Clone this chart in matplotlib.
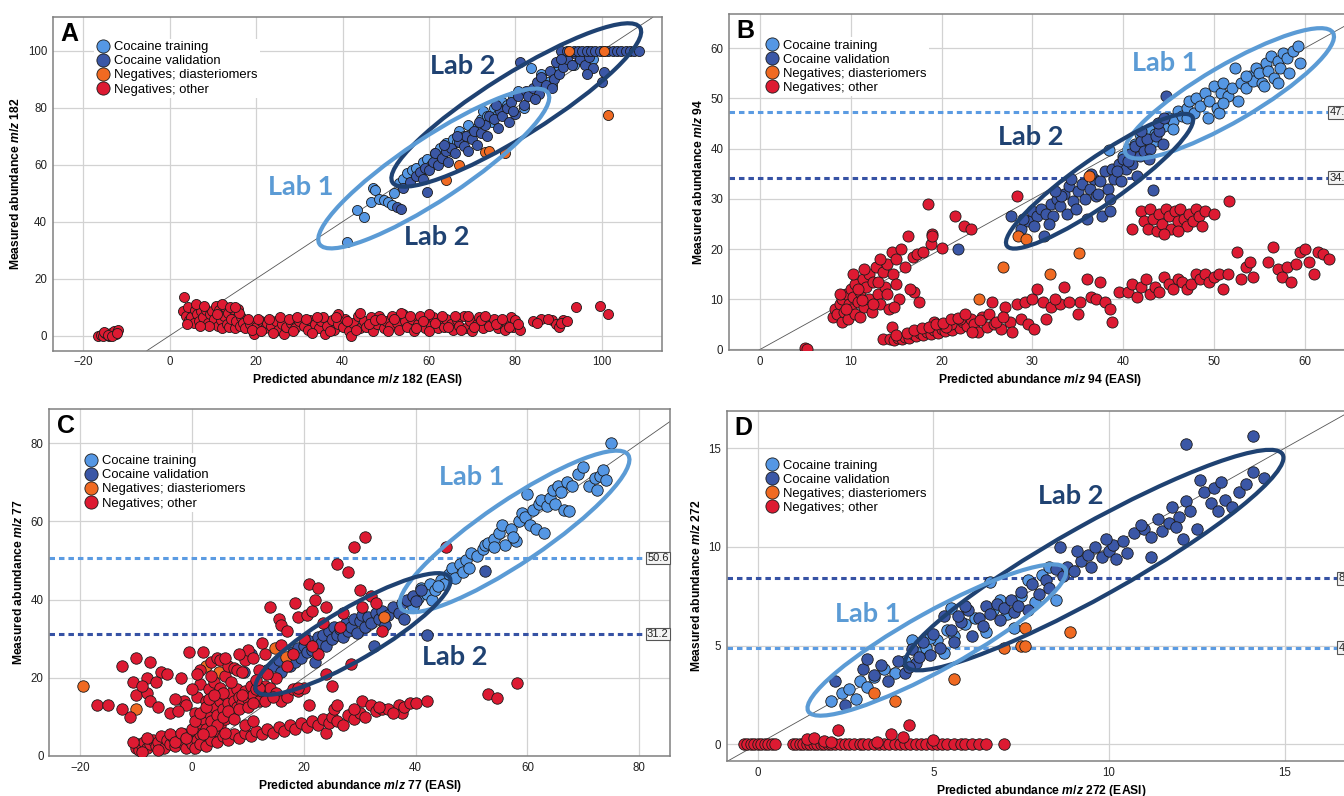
import numpy as np
import matplotlib
matplotlib.use("Agg")
import matplotlib.pyplot as plt
from matplotlib.patches import Ellipse
from matplotlib.transforms import IdentityTransform, blended_transform_factory
from matplotlib.lines import Line2D

plt.rcParams['font.family'] = ['Liberation Sans', 'DejaVu Sans']
plt.rcParams['mathtext.fontset'] = 'custom'
plt.rcParams['mathtext.it'] = 'Liberation Sans:italic:bold'
plt.rcParams['mathtext.rm'] = 'Liberation Sans:bold'
plt.rcParams['mathtext.bf'] = 'Liberation Sans:bold'

# ---------------------------------------------------------------- data
series_names = ["Cocaine training", "Cocaine validation",
                "Negatives; diasteriomers", "Negatives; other"]

# Panel A : m/z 182
A_xticks = [-20, 0, 20, 40, 60, 80, 100]
A_yticks = [0, 20, 40, 60, 80, 100]
A_train = [(41,33),(43.3,44),(45,41.5),(46.5,47),(47,52),(47.5,51),(48.5,48),(49.5,47.5),(50.5,47),(51.5,46),
           (52,50),(53,53.5),(54,55),(55,57),(56,58),(57,59),(58,57),(58.5,61),(59.5,62),(60.5,60),
           (61.5,64),(62.5,66),(63,63),(64,67.5),(65,65),(65.5,69),(66.5,68),(67,72),(68,70),(69,74),
           (70,71),(71,73),(72,76),(72.5,79),(73.5,77),(74.5,75),(75,80),(76,78),(77,82),(78,81),
           (79.5,84),(80.5,86),(82,80),(83.5,94),(85,87),(86,92),(87.5,89),(88.5,88),(90,94),(91,97),
           (92,99),(93.5,95),(95,98),(96.5,100),(98,97)]
A_valid = [(52.5,45),(53.5,44.5),(59.5,50.5),(54,52),(55.5,54),(57,56),(58,57.5),(59,59),(60,58),(61,61),
           (61.5,64),(62,60),(63,62.5),(64,65),(64.5,61),(65,66),(66,64),(67,68),(68,66.5),(68.5,70),
           (69,65),(70,69),(70.5,72),(71,67),(72,71),(73,74),(73.5,70),(74,77),(75,76),(76,73),
           (76.5,79),(77,77),(78,80),(78.5,75),(79,82),(80,78),(80.5,84),(81,96),(82,81),(82.5,86),
           (83,84),(84,87),(85,89),(85.5,85),(86,91),(87,88),(88,93),(89,90),(89.5,96),(90,92),
           (91,94.5),(92,97),(93,95),(94,99),(95,97),(96,95),(97,98),(98,94),(100,89),(100.5,92.5),
           (90.5,100),(92,100),(93.5,100),(94.5,100),(95.5,100),(96.5,100),(97.5,100),(98.5,100),(99.5,100),
           (100.5,100),(101.5,100),(102.5,100),(103.5,100),(104.5,100),(105.5,100),(106.5,100),(107.5,100),(108.5,100),
           (66.5,70),(71.5,75),(75.5,81),(79.5,79),(84.5,83),(88.5,87),(90.5,97),(96.5,92),(63.5,67),(58.5,55)]
A_diast = [(92.5,100),(100.5,100),(101.5,77.5),(64,54.5),(67,60),(73,64.5),(74,65),(77.5,64)]
A_other = [(-16.5,0),(-16,0.3),(-15.5,0),(-15,1),(-14.5,0.5),(-14,0),(-13.5,0.8),(-13,1.5),(-12.5,0.5),(-12,1.8),
           (-15.2,1.2),(-14.2,0.2),(-13.3,0),(-12.3,1),
           (3.2,13.5),(3.0,8.5),(3.8,7),(4.2,10),(4.5,5.5),(5.0,6.5),(5.5,4.5),(5.8,9),(6.3,7.5),(6.8,5),
           (7.2,8.5),(7.8,6.5),(8.3,9),(8.8,4.5),(9.3,7.5),(9.8,8.5),(10.3,6),(10.8,10.5),(11.2,3.5),(11.5,9),
           (11.8,5.5),(12.2,2.5),(12.5,7),(12.8,10),(13.2,4),(13.5,8),(13.8,3),(14.2,6),(14.6,9.5),(15.0,2.5),
           (15.4,5),(15.7,9.5),(16.2,3.5),(16.6,6.5),(17.0,4.5),(17.5,2.5),
           (18.5,4),(19.5,0.5),(20,3),(21,5),(22,2.5),(22.5,4.5),(23.5,3.5),(24.5,5),(25,2),(26,4),
           (26.5,0.5),(27,3),(28,4.5),(29,2.5),(30,5),(31,3.5),(32,2),(32.5,5.5),(33.5,4),(34.5,2.5),
           (35,5),(36,0.5),(36.5,3.5),(37.5,5.5),(38,2),(39,4),(40,3),(40.5,6),(41.5,1.5),(42,0),
           (42.5,4.5),(43.5,7),(44,2.5),(45,5),(45.5,3),(46.5,6.5),(47,1.5),(48,4),(48.5,7),(49.5,2.5),
           (50,5),(51,3.5),(51.5,7),(52.5,4.5),(53,2),(54,7.5),(54.5,5),(55,3),(56,6),(56.5,1.5),
           (57.5,4),(58,7),(59,2.5),(59.5,5.5),(60.5,3.5),(61,6.5),(62,2.5),(62.5,5),(63.5,3),(64,6),
           (65,4),(65.5,2),(66.5,5.5),(67,3.5),(68,7),(68.5,2.5),(69.5,5),(70,1.5),(71,4),(71.5,6.5),
           (72.5,2.5),(73.5,5),(74,3.5),(75,6),(76,2.5),(76.5,4.5),(78,4),(79,6.5),(79.5,3),(80,5.5),
           (81,2),(84,5),(86,6),(88.5,5.5),(89.5,4),(90,3),(91,5.5),(94,10),(99.5,10.5),(101.5,7.5),
           (44,8),(53.5,8),(39,7.5),(60,7.5),(35.5,6.5),(20.5,6),
           (18,6),(19,2),(21,1.5),(23,6),(24,1),(25.5,6.5),(27.5,6),(28.5,1.5),(29.5,6.5),(31.5,6),
           (33,1),(34,6.5),(37,1.5),(38.5,6.5),(41,5),(43,2),(46,4),(47.5,5.5),(49,6),(50.5,1.5),
           (52,6),(55.5,7),(57,2.5),(58.5,5),(60,1.5),(61.5,4.5),(63,7),(64.5,3),(66,7),(67.5,2),
           (69,7),(70.5,3),(72,5.5),(73,7),(75.5,4),(77,6),(77.5,2),(78.5,3),(80.5,4),(85,4.5),
           (87.5,6),(90.5,4.5),(92,5),(11,7.5),(9,3.5),(7,3.5),(4,4),(6,11),(8,10.5),(12,11),
           (14,10),(16,8),(15.2,10)]

# Panel B : m/z 94
B_xticks = [0, 10, 20, 30, 40, 50, 60]
B_yticks = [0, 10, 20, 30, 40, 50, 60]
B_refs = [47.2, 34.2]
B_train = [(40,38.5),(40.5,40),(41.3,41),(41.8,43),(42.5,42),(43,44),(43.5,43),(44,45),(44.5,44.5),(45,46),
           (45.5,45.5),(46,47.5),(46.5,46.5),(47,48),(47.3,49.5),(47.8,47),(48,50),(48.5,48.5),(49,51),(49.3,46),
           (49.5,49.5),(50,52.5),(50.3,48),(50.5,47),(50.8,51),(51,53),(51.5,50.5),(52,52),(52.3,56),(52.7,49.5),
           (53,53),(53.5,52),(54,54.5),(54.3,53.5),(54.6,56),(55,55),(55.3,53),(55.7,57),(56,55.5),(56.3,58.5),
           (56.6,54),(57,57.5),(57.3,56),(57.6,59),(58,58),(58.3,55),(58.7,59.5),(59.2,60.5),(59.5,57),(57,53),
           (55.5,52.5),(53.5,54.5),(51,49),(47,46),(45.5,44),(43.5,41.5),(38.4,39.7)]
B_valid = [(21.8,20),(27.7,26.5),(28.7,24),(29.5,25.5),(30,27.5),(30.5,26.5),(31,28),(31.3,22.5),(31.5,27),(32,29),
           (32.3,26.5),(32.7,30),(33,28.5),(33.5,31),(33.8,27),(34,32.5),(34.5,29.5),(35,31.5),(35.5,33),(35.8,30),
           (36,26),(36.3,32),(36.8,34),(37,30.5),(37.5,33.5),(37.7,26.5),(38,35.5),(38.3,32),(38.5,27.5),(38.8,36),
           (39,34),(39.5,37),(39.8,33.5),(40,38),(40.3,36),(40.8,39),(41,37),(41.3,40.5),(41.5,34.5),(41.8,38.5),
           (42,41.5),(42.3,39.5),(42.6,42),(43,40),(43.3,31.8),(43.6,42.5),(44,43.5),(44.4,41),(44.7,50.5),
           (29,26),(30.2,24.5),(31.8,25),(33.2,30.5),(34.8,28),(36.5,35),(37.2,31),(39.3,35.5),(40.5,37.5),(42.8,38),
           (43.8,45),(42,43.5),(38.6,30),(34.2,34),(32.5,31.5),(44.5,46)]
B_diast = [(28.4,22.5),(29.3,22),(36.2,34.5),(35.1,19.2),(26.8,16.5),(31.9,15),(24.1,10)]
B_other = [(8,6.5),(8.3,8),(8.5,7),(8.8,9),(9,5.5),(9,10),(9.3,7.5),(9.5,11),(9.7,6),(9.8,9),
           (10,12),(10,8),(10.3,10.5),(10.5,7),(10.5,13),(10.8,9.5),(11,11.5),(11,6.5),(11.3,14),(11.5,8.5),
           (11.7,12.5),(12,10),(12,15),(12.3,7.5),(12.5,13.5),(12.8,16.5),(13,11),(13.2,9),(13.5,15.5),(13.8,12.5),
           (14,17),(14.2,8),(14.5,19.5),(14.7,15),(15,18),(15,13),(15.5,20),(15.3,10),(14.8,8.5),(16,16.5),
           (16.3,22.5),(16.8,18.5),(17.3,19),(17,11.5),(17.5,9.5),(16.5,12),(18,19.5),(18.5,29),(18.8,21),(19,23),
           (19.2,5.5),(20,20.2),(21.5,26.5),(22.5,24.5),(23.2,24),(14.5,4.5),(13.5,2),(19,22.5),(5,0.3),(5.2,0),
           (14.3,2),(14.8,1.8),(15.2,2.3),(15.6,2),(16,2.5),(16.4,2.2),(16.8,3),(17.2,2.6),(17.6,3.2),(18,2.8),
           (18.4,3.5),(18.8,3),(19.2,3.8),(19.6,3.3),(20,4),(20.4,3.6),(20.8,4.5),(21.2,3.9),(21.6,5),(22,4.2),
           (22.4,5.5),(22.8,4.6),(23.2,6),(23.6,5),(24,3.5),(24.5,6.5),(25,4.5),(25.5,9.5),(25.8,5),(26.5,4),
           (27,8.5),(27.5,5.5),(27.8,3.5),(28.3,9),(28.8,6),(29.2,9.5),(29.5,5),(30,10),(30.2,4),(30.5,12),
           (31.2,9.5),(31.5,6),(32,8.5),(33,9),(35,7),(35.3,9.5),(36,14),(36.5,10.5),(37,10),(37.5,13.5),
           (38,9.5),(38.5,8),(38.8,5.5),(39.5,11.5),(40.5,11.5),(41,13),(41.5,10.5),(42,12.5),(42.5,14),(43,11),
           (43.5,12.5),(44,11.5),(44.5,14.5),(45,13),(45.5,12),(46,14),(46.5,13.5),(47,12),(47.5,13),(48,15),
           (48.5,14),(49,15),(49.5,13.5),(50,14.5),(50.5,15),(51,12),(51.5,15),(52.5,19.5),(53,14),(53.5,16.5),
           (54,17.5),(54.3,14.5),(56,17.5),(56.5,20.5),(57,16),(57.5,14.5),(58,16.5),(58.5,13.5),(59,17),(59.5,19.5),
           (60,20),(60.5,17.5),(61,15),(61.5,19.5),(62,19),(62.7,18),(21,5),(20.5,4.5),(22,6),(28.3,30.5),
           (41,24),(42,27.5),(42.3,25.5),(42.7,24),(43,28),(43.3,26),(43.7,23.5),(44,27),(44.3,25),(44.7,28),
           (45,26.5),(45.3,24),(45.7,27.5),(46,25.5),(46.3,28),(46.7,26),(47,24.5),(47.3,27),(47.7,25.5),(48,28),
           (48.3,26.5),(48.7,24.5),(49,27.5),(50,27),(51.7,29.5),(44.5,23),(46,23.5),
           (15,2.8),(16.2,3.3),(17,3.8),(17.8,4.2),(18.6,4.5),(19.4,5),(20.2,5.3),(21,6),(21.8,6.3),(22.6,7),
           (23.4,3.5),(24.2,5.8),(25.2,7),(26,5.5),(26.8,6.5),(33.5,12.5),(34,9.5),(32.5,10),(13,13.5),(12.5,9),
           (11.5,16),(10.2,15),(14,11),(13.2,18),(9.5,8),(10.8,12),(8.8,11),(11.2,9.8)]

# Panel C : m/z 77
C_xticks = [-20, 0, 20, 40, 60, 80]
C_yticks = [0, 20, 40, 60, 80]
C_refs = [50.6, 31.2]
C_train = [(39.5,38),(40.5,40.5),(41,43),(42,41.5),(42.5,44),(43,40),(43.5,42.5),(44.5,45),(45,44),(46,46.5),
           (46.5,48),(47,45.5),(48,49),(48.5,47),(49,50),(49.5,48),(50,52),(51,51),(52,53),(52.5,54),
           (53,54.5),(54,55.5),(55,57),(55.5,59),(56,54),(57,58),(58,55),(58.5,60),(59,62),(59.5,61),
           (60,67),(60.5,59),(61,63),(61.5,58),(62,64.5),(62.5,65.5),(63,57),(63.5,64),(64,66),(64.5,68),
           (65,64.5),(65.5,69),(66,67.5),(66.5,63),(67,70),(67.5,62.5),(68,69),(69,72),(70,74),(71,69),
           (72,71),(72.5,68),(73,71.5),(73.5,73),(74,70.5),(75,80),(54,53.5),(57.5,56),(44,43.5)]
C_valid = [(9.3,21.5),(10.5,26),(13.5,22),(14.5,23),(15.5,24.5),(16,21.5),(17,25),(17.5,23),(18,26.5),(18.5,24),
           (19,27.5),(19.5,25),(20,28),(20.5,26.5),(21,29.5),(21.5,27),(22,28.5),(22.5,30.5),(23,29),(23.5,31),
           (24,28),(24.5,32),(25,30),(25.5,33),(26,31),(26.5,32.5),(27,30.5),(27.5,34),(28,32),(28.5,33),
           (29,35),(29.5,31.5),(30,34.5),(30.5,36),(31,33),(31.5,35.5),(32,34),(32.5,28),(33,36.5),(33.5,35),
           (34,37),(34.5,33.5),(35,36),(36,38),(37,36.5),(37.5,39),(38,35),(38.5,40),(39.5,41),(40,39.5),
           (41,42.5),(42,31),(52.5,47.2),(22,24)]
C_diast = [(-19.5,17.8),(-10,12),(2.5,23),(4.8,21.5),(14.8,27.5),(16.8,25.3),(34.4,35.5)]
C_other = [(-10,2),(-9.7,3),(-9.5,1.5),(-9,2.5),(-8.5,3.5),(-8,2),(-7.5,3),(-7,4),(-6.5,2.5),(-6,3.5),
           (-5.5,5),(-5,2),(-4.5,4),(-4,3),(-3.5,5),(-3,2.5),(-2.5,4.5),(-2,3.5),(-1.5,5.5),(-1,2),
           (-0.5,4),(0,5),(0,3),(0.5,6.5),(1,4),(1,8),(1.5,5.5),(2,9.5),(2,3),(2.5,7),
           (3,11),(3,5),(3.5,9),(4,12.5),(4,6.5),(4.5,10.5),(5,14),(5,8),(5.5,12),(6,15.5),
           (6,9.5),(6.5,13.5),(7,11),(7,16),(7.5,14),(8,12.5),(8,17),(8.5,15),(9,13.5),(9.5,16.5),
           (10,14.5),(10.5,18),(11,15.5),(11.5,17),(12,14),(12.5,16.5),(13,18),(13.5,15),(14,17.5),(15,16),
           (16,14),(17,15),(18,17),(19,16.5),(20,17.5),
           (0.5,2),(1.5,3),(2.5,2.5),(3.5,4),(4.5,3.5),(5.5,5),(6.5,4),(7.5,5.5),(8.5,4.5),(9.5,6),
           (10.5,5),(11.5,6.5),(12.5,5.5),(13.5,7),(14.5,6),(15.5,7.5),(16.5,6.5),(17.5,8),(18.5,7),(19.5,8.5),
           (20.5,7.5),(21.5,9),(22.5,8),(23.5,9.5),(24,6),(24.5,8.5),(25,10),(25.5,12),(26,9),(27,8),
           (28,10.5),(29,9.5),(30,11),(30.5,14),(31,10),(32,13),(33,11.5),(34,12),(35,12),(37,13),
           (37.5,11),(38,12.5),(39,13.5),(40,13.5),(42,14),
           (-17,13),(-15,13),(-12.5,23),(-11,10),(-10.5,19),(-10,15.5),(-10,25),(-8,20),(-8,16),(-7.5,14),
           (-7.5,24),(-6,12.5),(-5.5,21.5),(-4.5,21),(-4,11),(-2,20),(-1.5,14),(-1,13),(-0.5,26.5),(0.5,11),
           (1,15),(1.5,22),(1.5,18.5),(1,21),(2,26.5),(2.5,14),(3,17),(3.5,24),(4,19),(4.5,25),
           (5,17.5),(5,24.5),(5.5,16),(6,20.5),(6.5,23),(7,19),(7.5,22.5),(8,22),(9,21.5),(9.5,24.5),
           (10,27),(11,25),(12,22),(12.5,29),(13,26),(14,38),(15,20),(15.5,35),(16,33.5),(17,23),
           (18,26),(18.5,39),(19,35.5),(20,30),(20.5,36),(21,44),(21.5,37),(22,40),(22.5,43),(22.5,26),
           (23.5,34),(24,38),(25,18),(26,49),(26.5,33),(27,36.5),(28,47),(28.5,23.5),(29,53.5),(30,42.5),
           (30.5,38),(31,56),(32,41),(33,39),(34,32),(45.5,53.5),(53,15.8),(54.5,14.8),(58.2,18.7),(21,13),
           (19,17.5),(24,21),(21.5,28),(17,32),(16,28.5),
           (-10.5,3.5),(-9,1),(-8,4.5),(-6,1.5),(-4,5.5),(-3,3.5),(-2,6),(-1,4.5),(0,7),(0.5,9),
           (1.5,11),(2.5,12.5),(3,14.5),(4,15.5),(4.5,8),(5.5,10),(6.5,11.5),(7.5,9.5),(8.5,12),(9,15.5),
           (10,12.5),(11,13.5),(12,17.5),(13,14),(14.5,15),(9.5,8),(11,9),(6,6),(3.5,6.5),(2,5.5),
           (-12.5,12),(-9,18),(-6.5,19),(-3,14.5),(-2.5,11.5),(0,17),(3.5,20.5),(6,25),(8.5,26),(11.5,19.5),
           (13.5,21),(26,13),(29,12),(33.5,12.5),(36,11)]

# Panel D : m/z 272
D_xticks = [0, 5, 10, 15]
D_yticks = [0, 5, 10, 15]
D_refs = [8.4, 4.9]
D_train = [(2.1,2.2),(2.4,2.6),(2.6,2.8),(2.8,2.3),(2.9,3.2),(3.1,2.9),(3.3,3.4),(3.6,3.8),(3.9,3.6),(4.2,4.2),
           (4.4,5.3),(4.6,4.6),(4.8,4.9),(5.1,5.3),(5.3,4.6),(5.4,5.8),(5.6,5.5),(5.9,6.1),(6.2,6.4),(6.5,5.7),
           (6.7,6.8),(6.9,7.3),(7.1,6.6),(7.3,5.9),(7.5,7.5),(7.7,8.3),(7.9,7.2),(8.1,8.6),(8.3,9),(8.5,7.3),
           (6.6,8.2),(5.5,6.9),(4.9,5.4)]
D_valid = [(2.2,3.2),(2.5,2),(3,3.8),(3.3,3.5),(3.5,4),(3.7,3.2),(4,4.2),(4.2,3.6),(4.4,4.8),(4.5,4.1),
           (4.7,5.2),(4.9,4.5),(5,5.6),(5.2,4.9),(5.3,6.5),(5.5,5.8),(5.6,5.2),(5.8,6.2),(6,6.8),(6.1,5.5),
           (6.3,6.4),(6.5,7),(6.6,6.6),(6.8,7.1),(7,6.9),(7.2,7.3),(7.3,6.7),(7.5,7.7),(7.7,6.8),(7.8,8.1),
           (8,7.6),(8.2,8.3),(8.3,7.9),(8.5,8.9),(8.7,8.5),(8.8,9),(9,8.8),(9.2,9.3),(9.4,9.6),(9.5,9),
           (9.6,10),(9.8,9.5),(10,9.8),(10.1,10.1),(10.2,9.4),(10.4,10.3),(10.5,9.7),(10.7,10.7),(11,10.9),(11.2,10.5),
           (11.4,11.4),(11.5,10.8),(11.7,11.2),(11.8,12),(12,11.5),(12.1,10.4),(12.2,12.3),(12.3,11.8),(12.5,10.9),(12.7,12.8),
           (12.9,12.2),(13,13),(13.1,11.8),(13.3,12.4),(13.5,12),(13.7,12.8),(13.9,13.2),(14.1,13.8),(14.4,13.5),(12.2,15.2),
           (14.1,15.6),(8.6,10),(10.9,11.1),(12.6,13.4),(11.2,9.5),(3.1,4.3),(4.3,3.9),
           (5.9,7.0),(6.4,6.0),(6.9,6.3),(7.4,7.0),(9.1,9.8),(9.9,10.4),(11.9,11.0),(13.2,13.3),(4.6,4.4),(5.7,6.5)]
D_diast = [(3.3,2.6),(3.9,2.2),(5.6,3.3),(7,4.9),(7.5,5),(7.6,5),(8.9,5.7),(7.6,5.9)]
D_other = [(-0.4,0),(-0.3,0),(-0.2,0),(-0.1,0),(0,0),(0.1,0),(0.2,0),(0.3,0),(0.4,0),(0.5,0),
           (1.0,0),(1.1,0),(1.2,0),(1.3,0),(1.4,0),(1.5,0),(1.6,0),(1.7,0),(1.8,0),(1.9,0),
           (2.0,0),(2.1,0),(2.2,0),(2.35,0),(2.5,0),(2.6,0),(2.75,0),(2.9,0),(3.0,0),(3.15,0),
           (3.3,0),(3.45,0),(3.6,0),(3.75,0),(3.9,0),(4.05,0),(4.2,0),(4.35,0),(4.5,0),(4.65,0),
           (4.8,0),(4.95,0),(5.1,0),(5.25,0),(5.4,0),(5.6,0),(5.8,0),(5.9,0),(6.1,0),(6.3,0),
           (6.5,0),(7.0,0),(2.3,0.7),(3.8,0.5),(4.3,0.95),(4.15,0.35),(1.4,0.25),(1.6,0.3),(1.9,0.15),(3.4,0.1),
           (5,0.2),(2.1,0.1)]

# ---------------------------------------------------------------- style
COLORS = ['#5597E4', '#3B57A6', '#F06A22', '#DD1A32']
LIGHT = '#5B9BD5'
DARK = '#1F4272'
REF_COLORS = {'light': '#5B9BE2', 'dark': '#3652A4'}

W, H = 1344, 796
fig = plt.figure(figsize=(W / 100, H / 100), dpi=100)


def add_ax(box):
    l, t, r, b = box
    return fig.add_axes([l / W, 1 - b / H, (r - l) / W, (b - t) / H])


panels = [
    dict(letter='A', box=(52.7, 17.3, 662.3, 350.7), xlim=(-27.1, 114.0), ylim=(-5.3, 111.8),
         xticks=A_xticks, yticks=A_yticks, mz='182', data=[A_train, A_valid, A_diast, A_other],
         refs=[], ellipses=[(80.2, 81.0, 146, 31, 32.0, DARK), (61.1, 58.7, 137, 31, 33.5, LIGHT)],
         labs=[(67.7, 94.7, 'Lab 2', DARK), (30.2, 52.2, 'Lab 1', LIGHT), (61.9, 34.6, 'Lab 2', DARK)],
         legend_px=(103, 46), msize=52),
    dict(letter='B', box=(729, 14, 1352, 350), xlim=(-3.41, 65.2), ylim=(-0.1, 66.8),
         xticks=B_xticks, yticks=B_yticks, mz='94', data=[B_train, B_valid, B_diast, B_other],
         refs=[(B_refs[0], 'light'), (B_refs[1], 'dark')],
         ellipses=[(51.7, 51.0, 120, 28, 30.3, LIGHT), (37.4, 33.5, 113, 23, 34.9, DARK)],
         labs=[(44.6, 57.1, 'Lab 1', LIGHT), (29.8, 42.3, 'Lab 2', DARK)],
         legend_px=(772, 44.3), msize=64),
    dict(letter='C', box=(49.3, 409, 670, 756), xlim=(-25.5, 85.5), ylim=(0, 88.7),
         xticks=C_xticks, yticks=C_yticks, mz='77', data=[C_train, C_valid, C_diast, C_other],
         refs=[(C_refs[0], 'light'), (C_refs[1], 'dark')],
         ellipses=[(57.7, 57.4, 137, 31, 34.0, LIGHT), (28.8, 31.2, 112, 26, 30.3, DARK)],
         labs=[(50.0, 71.3, 'Lab 1', LIGHT), (47.0, 25.4, 'Lab 2', DARK)],
         legend_px=(91, 460), msize=68),
    dict(letter='D', box=(726.7, 410.7, 1355, 761), xlim=(-0.88, 17.0), ylim=(-0.85, 16.9),
         xticks=D_xticks, yticks=D_yticks, mz='272', data=[D_train, D_valid, D_diast, D_other],
         refs=[(D_refs[0], 'dark'), (D_refs[1], 'light')],
         ellipses=[(9.58, 9.33, 216, 36, 29.3, DARK), (5.10, 5.28, 147, 29, 29.0, LIGHT)],
         labs=[(8.92, 12.58, 'Lab 2', DARK), (3.12, 6.58, 'Lab 1', LIGHT)],
         legend_px=(772, 464.3), msize=68),
]

for p in panels:
    ax = add_ax(p['box'])
    ax.set_xlim(*p['xlim'])
    ax.set_ylim(*p['ylim'])
    ax.set_xticks(p['xticks'])
    ax.set_yticks(p['yticks'])
    ax.grid(True, color='#d2d2d2', lw=0.9)
    ax.set_axisbelow(True)
    ax.tick_params(length=0, pad=4, labelsize=8.3, labelcolor='#222222')
    for s in ax.spines.values():
        s.set_color('#808080')
        s.set_linewidth(1.1)

    # identity line
    ax.axline((0, 0), (1, 1), color='#555555', lw=0.6, zorder=1.5)

    # reference lines
    tr = blended_transform_factory(ax.transAxes, ax.transData)
    for yv, kind in p['refs']:
        ax.axhline(yv, color=REF_COLORS[kind], lw=2.2, ls=(0, (1.8, 1.3)), zorder=1.6)
        ax.text(0.998, yv, f'{yv:.1f}', transform=tr, ha='right', va='center', fontsize=8,
                color='#222222', zorder=6,
                bbox=dict(boxstyle='square,pad=0.12', fc='#f4f4f4', ec='#555555', lw=0.8))

    # scatter series
    for pts, col, name in zip(p['data'], COLORS, series_names):
        xs = [q[0] for q in pts]
        ys = [q[1] for q in pts]
        ax.scatter(xs, ys, s=p['msize'], c=col, edgecolors='#1a1a1a', linewidths=0.6,
                   zorder=3, label=name)

    # ellipses (drawn in pixel space so the outline matches the picture)
    for cx, cy, a, b, ang, col in p['ellipses']:
        cd = ax.transData.transform((cx, cy))
        e = Ellipse(cd, 2 * a, 2 * b, angle=ang, transform=IdentityTransform(), fill=False,
                    ec=col, lw=3.0, zorder=4, clip_on=False)
        ax.add_artist(e)

    for x, y, t, col in p['labs']:
        ax.text(x, y, t, fontsize=19.5, fontweight='bold', color=col, ha='center', va='center',
                family=['Lato', 'DejaVu Sans'], zorder=5)

    # panel letter
    ax.text(0.012, 0.985, p['letter'], transform=ax.transAxes, fontsize=18, fontweight='bold',
            ha='left', va='top', color='black', zorder=6)

    # legend
    handles = [Line2D([], [], ls='', marker='o', markersize=9.5, markerfacecolor=c,
                      markeredgecolor='#1a1a1a', markeredgewidth=0.6) for c in COLORS]
    mx, my = p['legend_px']
    bx, by = mx - 9.0, my - 7.5
    fx, fy = ax.transAxes.inverted().transform((bx, H - by))
    leg = ax.legend(handles, series_names, loc='upper left', bbox_to_anchor=(fx, fy),
                    borderaxespad=0, borderpad=0.2, handlelength=1.0, handletextpad=0.35,
                    labelspacing=0.15, fontsize=9.4, frameon=True, fancybox=False,
                    framealpha=1, facecolor='white', edgecolor='none')
    leg.set_zorder(7)

    ax.set_xlabel(f'Predicted abundance $m/z$ {p["mz"]} (EASI)', fontsize=8.7,
                  fontweight='bold', labelpad=3)
    ax.set_ylabel(f'Measured abundance $m/z$ {p["mz"]}', fontsize=8.7, fontweight='bold',
                  labelpad=4)

fig.savefig('out.png', dpi=100)
